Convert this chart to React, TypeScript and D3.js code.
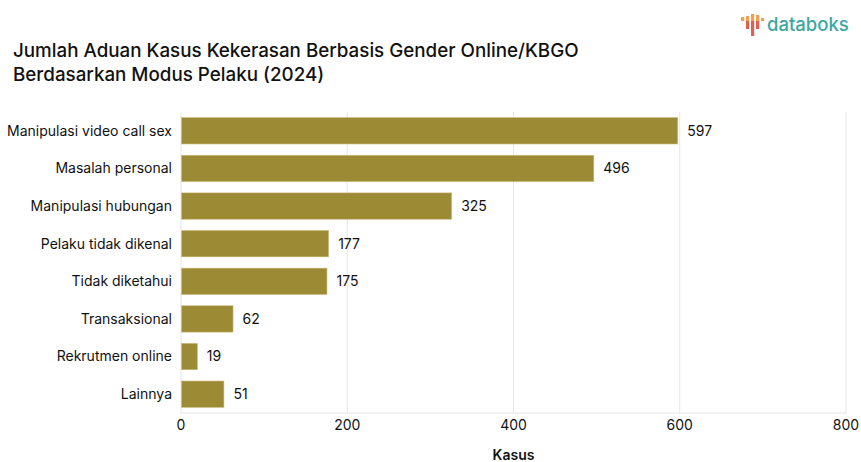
import React from "react";
import * as d3 from "d3";

const categories = [
  "Manipulasi video call sex",
  "Masalah personal",
  "Manipulasi hubungan",
  "Pelaku tidak dikenal",
  "Tidak diketahui",
  "Transaksional",
  "Rekrutmen online",
  "Lainnya",
];
const values = [597, 496, 325, 177, 175, 62, 19, 51];
const xTicks = [0, 200, 400, 600, 800];
const titleLines = [
  "Jumlah Aduan Kasus Kekerasan Berbasis Gender Online/KBGO",
  "Berdasarkan Modus Pelaku (2024)",
];
const xLabel = "Kasus";

// logo icon bars: [upper height, lower height]
const logoUp = [4, 5, 7, 6, 3];
const logoDown = [0, 8, 15, 8, 0];

const W = 861;
const H = 462;
const FONT = "'Inter', 'Helvetica Neue', Arial, sans-serif";

export default function App() {
  const x = d3.scaleLinear().domain([0, 800]).range([181, 846]);
  const y = d3
    .scaleBand<string>()
    .domain(categories)
    .range([112, 413])
    .paddingInner(0.3)
    .paddingOuter(0.15);
  const bw = y.bandwidth();
  const barColor = "#9c8a35";

  return (
    <svg
      width={W}
      height={H}
      style={{ position: "absolute", left: 0, top: 0, background: "#fff" }}
      fontFamily={FONT}
    >
      {/* title */}
      {titleLines.map((t, i) => (
        <text key={i} x={13} y={57 + i * 24} fontSize={18.8} fontWeight={500} fill="#111">
          {t}
        </text>
      ))}

      {/* logo */}
      <g>
        {logoUp.map((h, i) => (
          <rect
            key={"u" + i}
            x={741 + i * 5}
            y={21 - h}
            width={3.2}
            height={h}
            fill="#f0a050"
          />
        ))}
        {logoDown.map((h, i) =>
          h > 0 ? (
            <rect
              key={"d" + i}
              x={741 + i * 5}
              y={21}
              width={3.2}
              height={h}
              fill="#e06050"
            />
          ) : null
        )}
        <text x={767} y={31} fontSize={18.5} fill="#3aa8a0" fontWeight={500}>
          databoks
        </text>
      </g>

      {/* grid */}
      {xTicks.map((t) => (
        <line
          key={t}
          x1={x(t)}
          x2={x(t)}
          y1={112}
          y2={413}
          stroke="#e6e6e6"
          strokeWidth={1}
        />
      ))}
      <line x1={181} x2={846} y1={413} y2={413} stroke="#e6e6e6" />

      {/* bars */}
      {categories.map((c, i) => (
        <g key={c}>
          <rect
            x={x(0) + 0.5}
            y={y(c)!}
            width={x(values[i]) - x(0)}
            height={bw}
            fill={barColor}
            stroke="#c9bb78"
            strokeWidth={0.6}
          />
          <text
            x={x(values[i]) + 10}
            y={y(c)! + bw / 2}
            dy="0.35em"
            fontSize={14}
            fill="#111"
          >
            {values[i]}
          </text>
          <text
            x={172}
            y={y(c)! + bw / 2}
            dy="0.35em"
            fontSize={14}
            textAnchor="end"
            fill="#111"
          >
            {c}
          </text>
        </g>
      ))}

      {/* x ticks */}
      {xTicks.map((t) => (
        <text
          key={"t" + t}
          x={x(t)}
          y={430}
          textAnchor="middle"
          fontSize={14}
          fill="#111"
        >
          {t}
        </text>
      ))}
      <text
        x={x(400)}
        y={460}
        textAnchor="middle"
        fontSize={14}
        fontWeight={600}
        fill="#111"
      >
        {xLabel}
      </text>
    </svg>
  );
}
